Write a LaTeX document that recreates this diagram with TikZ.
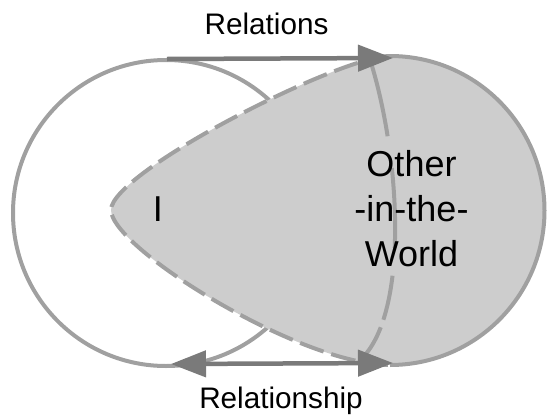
\documentclass[tikz,border=0pt]{standalone}
\usepackage{fontspec}
\setmainfont{Liberation Sans}
\usetikzlibrary{arrows.meta}
\definecolor{outl}{RGB}{160,160,160}
\definecolor{fillg}{RGB}{205,205,205}
\definecolor{arrc}{RGB}{122,122,122}
\tikzset{
  outline/.style={draw=outl, line width=4pt},
  rel/.style={draw=arrc, line width=4.5pt, >={Triangle[length=35pt,width=26pt]}},
  lbl/.style={inner sep=0pt, font=\fontsize{29.7}{34}\selectfont},
  big/.style={inner sep=0pt, align=center, font=\fontsize{36}{45}\selectfont},
}
\begin{document}
\begin{tikzpicture}[x=1pt,y=-1pt]
\useasboundingbox (0,0) rectangle (547,418);
% left circle (I's surround)
\node[circle, outline, minimum size=306pt, inner sep=0pt] (selfcircle) at (166,213) {};
% teardrop (Other-in-the-World)
\fill[fillg] (390,56) .. controls (340,56) and (111,172) .. (111,210)
  .. controls (111,248) and (300,365) .. (390,365)
  arc[start angle=-90, end angle=90, radius=154.5pt] -- cycle;
\draw[outline, dash pattern=on 25pt off 8pt] (390,56) .. controls (340,56) and (111,172) .. (111,210)
  .. controls (111,248) and (300,365) .. (390,365);
\draw[outline] (390,365) arc[start angle=-90, end angle=90, radius=154.5pt];
% meridian
\draw[outline, dash pattern=on 72pt off 32pt on 80pt off 28pt on 45pt off 8pt on 60pt]
  (372,66) .. controls (400,160) and (408,305) .. (365,355);
% labels
\node[big, anchor=base] (i) at (158,221) {I};
\node[big] (other) at (411.5,209) {Other\\-in-the-\\World};
\node[lbl, anchor=base] (relations) at (266.5,34) {Relations};
\node[lbl, anchor=base] (relationship) at (281,408) {Relationship};
% connectors
\coordinate (ra) at (167,59);
\coordinate (rb) at (393,58);
\coordinate (sa) at (171,364);
\coordinate (sb) at (393,363);
\draw[rel, ->] (ra) -- (rb);
\draw[rel, <->] (sa) -- (sb);
\end{tikzpicture}
\end{document}
